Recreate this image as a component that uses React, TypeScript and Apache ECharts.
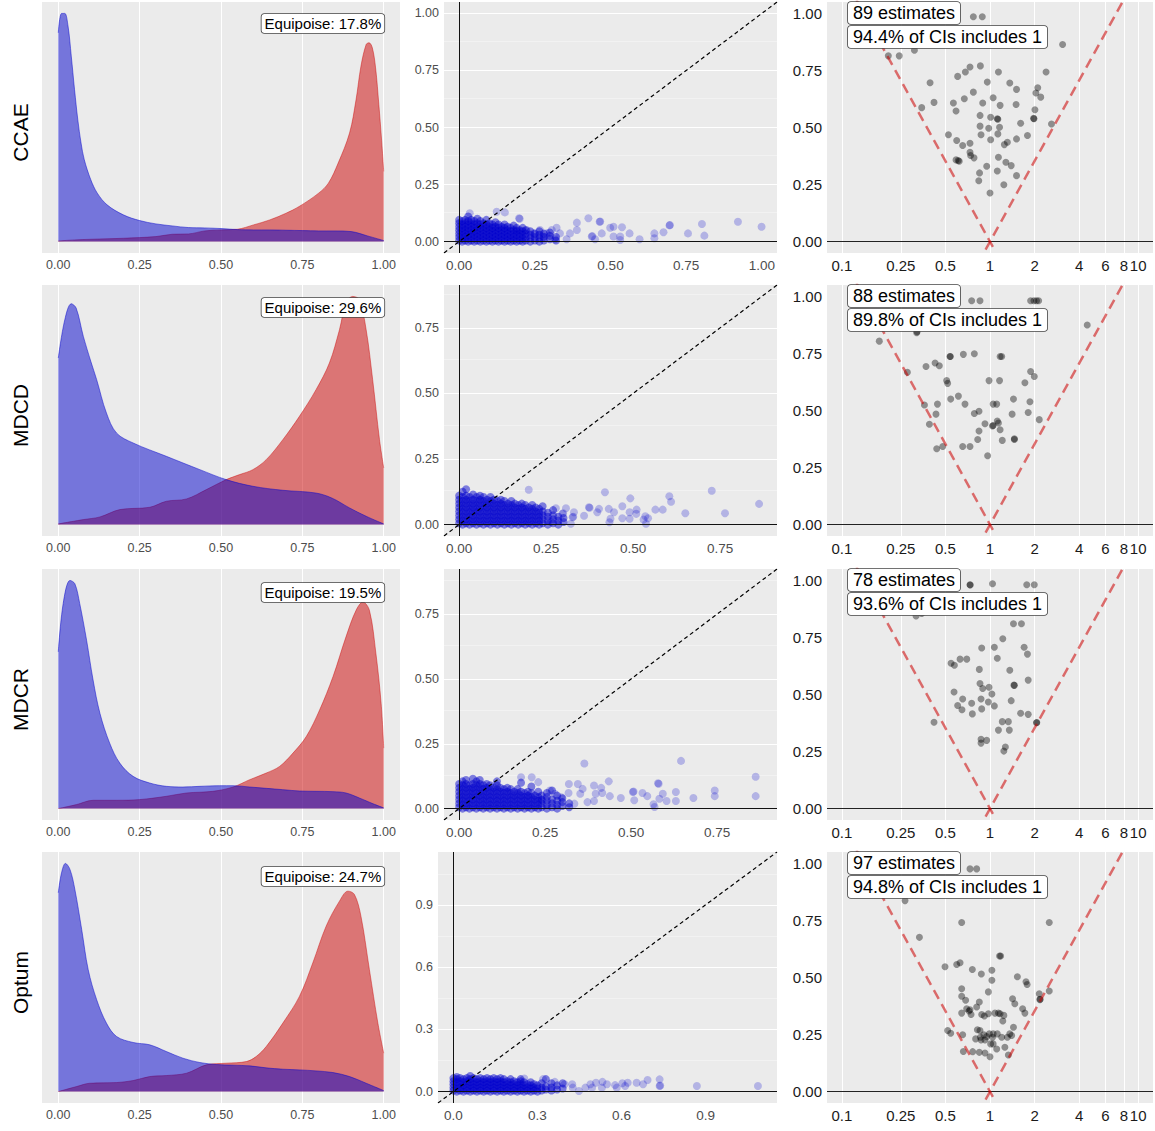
import React, { useEffect, useRef } from "react";
import * as echarts from "echarts";

// ---------- DATA ----------
const rowNames = ["CCAE", "MDCD", "MDCR", "Optum"];
const equipoiseLabels = ["Equipoise: 17.8%", "Equipoise: 29.6%", "Equipoise: 19.5%", "Equipoise: 24.7%"];
const estimateLabels = ["89 estimates", "88 estimates", "78 estimates", "97 estimates"];
const ciLabels = ["94.4% of CIs includes 1", "89.8% of CIs includes 1", "93.6% of CIs includes 1", "94.8% of CIs includes 1"];

// preference score densities: [score, density]
const blueCCAE = [[0,6.25],[0.01,6.83],[0.02,6.83],[0.03,6.45],[0.04,5.55],[0.05,4.55],[0.06,3.65],[0.07,2.95],[0.08,2.45],[0.1,1.85],[0.12,1.45],[0.15,1.1],[0.2,0.8],[0.25,0.63],[0.3,0.53],[0.35,0.47],[0.4,0.42],[0.45,0.41],[0.5,0.39],[0.55,0.36],[0.6,0.35],[0.65,0.35],[0.7,0.34],[0.75,0.33],[0.8,0.32],[0.85,0.32],[0.9,0.3],[0.95,0.17],[1,0.03]];
const redCCAE = [[0,0.02],[0.05,0.05],[0.1,0.07],[0.2,0.1],[0.3,0.15],[0.35,0.22],[0.4,0.23],[0.45,0.32],[0.5,0.35],[0.55,0.37],[0.6,0.5],[0.65,0.65],[0.7,0.85],[0.74,1.05],[0.8,1.45],[0.83,1.75],[0.86,2.35],[0.895,3.25],[0.915,4.25],[0.93,5.25],[0.946,5.9],[0.955,5.95],[0.965,5.8],[0.975,5.2],[0.985,4.1],[0.993,3.1],[1,2.1]];
const blueMDCD = [[0,5.0],[0.02,6.15],[0.04,6.63],[0.055,6.5],[0.077,5.65],[0.1,4.9],[0.118,4.35],[0.148,3.35],[0.179,2.75],[0.23,2.45],[0.332,2.05],[0.435,1.65],[0.516,1.35],[0.598,1.15],[0.69,1.03],[0.79,0.95],[0.84,0.8],[0.895,0.5],[0.946,0.25],[1,0.02]];
const redMDCD = [[0,0.02],[0.077,0.15],[0.128,0.23],[0.189,0.45],[0.281,0.52],[0.332,0.7],[0.394,0.77],[0.455,1.05],[0.516,1.35],[0.557,1.5],[0.598,1.65],[0.639,1.95],[0.69,2.55],[0.741,3.25],[0.792,4.05],[0.833,4.85],[0.864,5.85],[0.884,6.65],[0.905,6.85],[0.925,6.75],[0.946,5.85],[0.966,4.35],[0.987,2.55],[1,1.7]];
const blueMDCR = [[0,4.72],[0.015,6.17],[0.036,6.87],[0.051,6.77],[0.066,6.17],[0.087,5.07],[0.107,3.87],[0.128,2.87],[0.158,1.97],[0.189,1.37],[0.23,0.97],[0.281,0.77],[0.332,0.67],[0.383,0.65],[0.435,0.67],[0.496,0.69],[0.537,0.69],[0.588,0.65],[0.639,0.61],[0.69,0.57],[0.741,0.53],[0.844,0.51],[0.884,0.47],[0.925,0.32],[0.966,0.15],[1,0.02]];
const redMDCR = [[0,0],[0.056,0.12],[0.107,0.25],[0.179,0.25],[0.25,0.27],[0.332,0.37],[0.394,0.47],[0.475,0.52],[0.537,0.65],[0.588,0.87],[0.639,1.07],[0.68,1.27],[0.721,1.67],[0.762,2.17],[0.803,2.97],[0.844,3.97],[0.884,5.17],[0.915,5.97],[0.936,6.22],[0.956,5.97],[0.976,4.67],[0.992,3.17],[1,1.82]];
const blueOptum = [[0,5.95],[0.01,6.55],[0.022,6.83],[0.036,6.65],[0.051,6.05],[0.072,4.85],[0.092,3.65],[0.118,2.75],[0.148,2.05],[0.179,1.65],[0.23,1.47],[0.281,1.4],[0.332,1.2],[0.383,1.0],[0.435,0.87],[0.486,0.81],[0.537,0.79],[0.588,0.77],[0.639,0.71],[0.69,0.67],[0.741,0.65],[0.792,0.62],[0.844,0.57],[0.895,0.45],[0.946,0.25],[1,0.03]];
const redOptum = [[0,0],[0.056,0.15],[0.097,0.25],[0.179,0.27],[0.23,0.33],[0.281,0.45],[0.332,0.48],[0.394,0.55],[0.455,0.8],[0.516,0.85],[0.578,0.9],[0.608,1.05],[0.639,1.35],[0.69,2.05],[0.741,2.85],[0.782,3.85],[0.823,4.95],[0.864,5.7],[0.89,6.0],[0.91,5.9],[0.93,5.25],[0.956,3.65],[0.982,2.05],[1,1.15]];

// before vs after matching SD scatter: dense core [x, [y...]] + scattered points [x, y]
const coreCCAE = [[0,[0.005,0.02,0.035,0.05,0.065,0.08,0.095]],[0.01,[0,0.015,0.03,0.045,0.06,0.075,0.09]],[0.02,[0.005,0.02,0.035,0.05,0.065,0.08,0.095]],[0.03,[0,0.015,0.03,0.045,0.06,0.075,0.09,0.11]],[0.04,[0.005,0.02,0.035,0.05,0.065,0.08,0.095]],[0.05,[0,0.015,0.03,0.045,0.06,0.075,0.09]],[0.06,[0.005,0.02,0.035,0.05,0.065,0.08,0.1]],[0.07,[0,0.015,0.03,0.045,0.06,0.075,0.09]],[0.08,[0.005,0.02,0.035,0.05,0.065,0.08]],[0.09,[0,0.015,0.03,0.045,0.06,0.075,0.095]],[0.1,[0.005,0.02,0.035,0.05,0.065,0.08]],[0.11,[0,0.015,0.03,0.045,0.06,0.075]],[0.12,[0.005,0.02,0.035,0.05,0.065,0.085]],[0.13,[0,0.015,0.03,0.045,0.06,0.075]],[0.14,[0.005,0.02,0.035,0.05,0.065]],[0.15,[0,0.015,0.03,0.045,0.06,0.075]],[0.16,[0.005,0.02,0.035,0.05,0.065]],[0.17,[0,0.015,0.03,0.045,0.06]],[0.18,[0.005,0.02,0.035,0.05,0.07]],[0.19,[0,0.015,0.03,0.045,0.06]],[0.2,[0.005,0.02,0.035,0.05]],[0.21,[0,0.015,0.03,0.045,0.06]],[0.22,[0.005,0.02,0.035,0.05]],[0.235,[0,0.015,0.03,0.045]],[0.25,[0.005,0.02,0.035]],[0.265,[0,0.015,0.03,0.045]],[0.28,[0.005,0.02,0.035]],[0.3,[0.01,0.025,0.04]],[0.32,[0.005,0.02]]];
const outCCAE = [[0.035,0.124],[0.124,0.131],[0.151,0.128],[0.198,0.102],[0.2,0.1],[0.389,0.083],[0.427,0.102],[0.464,0.087],[0.466,0.088],[0.499,0.061],[0.51,0.065],[0.538,0.063],[0.563,0.036],[0.596,0.01],[0.645,0.036],[0.645,0.015],[0.675,0.041],[0.695,0.071],[0.696,0.073],[0.756,0.036],[0.802,0.077],[0.81,0.026],[0.921,0.087],[0.999,0.065],[0.389,0.051],[0.366,0.036],[0.333,0.036],[0.289,0.036],[0.278,0.022],[0.438,0.022],[0.44,0.024],[0.471,0.036],[0.449,0.01],[0.532,0.022],[0.51,0.022],[0.532,0.007],[0.317,0.01],[0.355,0.01],[0.306,0.051],[0.322,0.061],[0.267,0.051],[0.245,0.036],[0.223,0.051],[0.19,0.051]];
const coreMDCD = [[0,[0.005,0.02,0.035,0.05,0.065,0.08,0.095,0.11]],[0.01,[0,0.015,0.03,0.045,0.06,0.075,0.09,0.105,0.125]],[0.02,[0.005,0.02,0.035,0.05,0.065,0.08,0.095,0.11,0.135]],[0.03,[0,0.015,0.03,0.045,0.06,0.075,0.09,0.105]],[0.04,[0.005,0.02,0.035,0.05,0.065,0.08,0.095,0.115]],[0.05,[0,0.015,0.03,0.045,0.06,0.075,0.09,0.105]],[0.06,[0.005,0.02,0.035,0.05,0.065,0.08,0.095,0.11]],[0.07,[0,0.015,0.03,0.045,0.06,0.075,0.09,0.105]],[0.08,[0.005,0.02,0.035,0.05,0.065,0.08,0.095]],[0.09,[0,0.015,0.03,0.045,0.06,0.075,0.09,0.105]],[0.1,[0.005,0.02,0.035,0.05,0.065,0.08,0.095]],[0.11,[0,0.015,0.03,0.045,0.06,0.075,0.09]],[0.12,[0.005,0.02,0.035,0.05,0.065,0.08,0.095]],[0.13,[0,0.015,0.03,0.045,0.06,0.075,0.09]],[0.14,[0.005,0.02,0.035,0.05,0.065,0.08]],[0.15,[0,0.015,0.03,0.045,0.06,0.075,0.09]],[0.16,[0.005,0.02,0.035,0.05,0.065,0.08]],[0.17,[0,0.015,0.03,0.045,0.06,0.075]],[0.18,[0.005,0.02,0.035,0.05,0.065,0.08]],[0.19,[0,0.015,0.03,0.045,0.06,0.075]],[0.2,[0.005,0.02,0.035,0.05,0.065]],[0.21,[0,0.015,0.03,0.045,0.06,0.075]],[0.22,[0.005,0.02,0.035,0.05,0.065]],[0.23,[0,0.015,0.03,0.045,0.06]],[0.24,[0.005,0.02,0.035,0.05,0.07]],[0.255,[0,0.015,0.03,0.045]],[0.27,[0.005,0.02,0.035,0.055]],[0.285,[0,0.015,0.03]],[0.3,[0.01,0.025]]];
const outMDCD = [[0.2,0.133],[0.419,0.123],[0.492,0.1],[0.604,0.108],[0.609,0.087],[0.726,0.129],[0.65,0.043],[0.764,0.043],[0.862,0.079],[0.585,0.057],[0.564,0.057],[0.51,0.057],[0.509,0.041],[0.49,0.022],[0.49,0.047],[0.469,0.07],[0.469,0.024],[0.445,0.047],[0.435,0.022],[0.432,0.009],[0.43,0.06],[0.402,0.06],[0.397,0.047],[0.373,0.066],[0.375,0.064],[0.359,0.034],[0.33,0.047],[0.326,0.028],[0.328,0.03],[0.297,0.041],[0.299,0.043],[0.278,0.062],[0.307,0.062],[0.53,0.019],[0.537,0.003],[0.543,0.024],[0.535,0.032],[0.321,0.003],[0.264,0.009]];
const coreMDCR = [[0,[0.005,0.02,0.035,0.05,0.065,0.08,0.095]],[0.01,[0,0.015,0.03,0.045,0.06,0.075,0.09,0.105]],[0.02,[0.005,0.02,0.035,0.05,0.065,0.08,0.095,0.11]],[0.03,[0,0.015,0.03,0.045,0.06,0.075,0.09]],[0.04,[0.005,0.02,0.035,0.05,0.065,0.08,0.095,0.115]],[0.05,[0,0.015,0.03,0.045,0.06,0.075,0.09,0.105]],[0.06,[0.005,0.02,0.035,0.05,0.065,0.08,0.095,0.11]],[0.07,[0,0.015,0.03,0.045,0.06,0.075,0.09]],[0.08,[0.005,0.02,0.035,0.05,0.065,0.08,0.095]],[0.09,[0,0.015,0.03,0.045,0.06,0.075,0.09]],[0.1,[0.005,0.02,0.035,0.05,0.065,0.08]],[0.11,[0,0.015,0.03,0.045,0.06,0.075,0.09,0.105]],[0.12,[0.005,0.02,0.035,0.05,0.065,0.08]],[0.13,[0,0.015,0.03,0.045,0.06,0.075]],[0.14,[0.005,0.02,0.035,0.05,0.065,0.08]],[0.15,[0,0.015,0.03,0.045,0.06,0.075]],[0.16,[0.005,0.02,0.035,0.05,0.065]],[0.17,[0,0.015,0.03,0.045,0.06,0.075]],[0.18,[0.005,0.02,0.035,0.05,0.065,0.1]],[0.19,[0,0.015,0.03,0.045,0.06]],[0.2,[0.005,0.02,0.035,0.05,0.065]],[0.21,[0,0.015,0.03,0.045,0.06,0.085]],[0.22,[0.005,0.02,0.035,0.05]],[0.23,[0,0.015,0.03,0.045,0.065]],[0.24,[0.005,0.02,0.035,0.05]],[0.255,[0,0.015,0.03,0.045,0.06]],[0.27,[0.005,0.02,0.035,0.07]],[0.285,[0,0.015,0.03,0.05]],[0.3,[0.01,0.025,0.04]],[0.32,[0.005,0.02]]];
const outMDCR = [[0.364,0.174],[0.645,0.184],[0.862,0.123],[0.862,0.048],[0.743,0.07],[0.743,0.048],[0.681,0.041],[0.63,0.064],[0.63,0.029],[0.592,0.057],[0.603,0.029],[0.578,0.098],[0.58,0.096],[0.582,0.038],[0.565,0.017],[0.568,0.006],[0.547,0.048],[0.533,0.06],[0.505,0.064],[0.507,0.066],[0.509,0.032],[0.47,0.041],[0.435,0.105],[0.438,0.048],[0.416,0.06],[0.413,0.08],[0.392,0.089],[0.392,0.029],[0.397,0.057],[0.359,0.076],[0.345,0.095],[0.319,0.095],[0.352,0.057],[0.373,0.025],[0.335,0.019],[0.318,0.06],[0.297,0.044],[0.278,0.057],[0.264,0.07],[0.23,0.102],[0.211,0.121],[0.18,0.121],[0.24,0.032]];
const coreOptum = [[0,[0.005,0.02,0.035,0.05,0.065]],[0.012,[0,0.015,0.03,0.045,0.06,0.07]],[0.024,[0.005,0.02,0.035,0.05,0.065]],[0.036,[0,0.015,0.03,0.045,0.06]],[0.048,[0.005,0.02,0.035,0.05,0.065]],[0.06,[0,0.015,0.03,0.045,0.06,0.075]],[0.072,[0.005,0.02,0.035,0.05,0.065]],[0.084,[0,0.015,0.03,0.045,0.06]],[0.096,[0.005,0.02,0.035,0.05,0.065]],[0.108,[0,0.015,0.03,0.045,0.06]],[0.12,[0.005,0.02,0.035,0.05,0.065]],[0.132,[0,0.015,0.03,0.045,0.06]],[0.144,[0.005,0.02,0.035,0.05,0.065]],[0.156,[0,0.015,0.03,0.045,0.06]],[0.168,[0.005,0.02,0.035,0.05,0.065]],[0.18,[0,0.015,0.03,0.045,0.06]],[0.192,[0.005,0.02,0.035,0.05]],[0.204,[0,0.015,0.03,0.045,0.06]],[0.216,[0.005,0.02,0.035,0.05]],[0.228,[0,0.015,0.03,0.045]],[0.24,[0.005,0.02,0.035,0.05,0.06]],[0.252,[0,0.015,0.03,0.045]],[0.264,[0.005,0.02,0.035]],[0.276,[0,0.015,0.03,0.045]],[0.288,[0.005,0.02,0.035]],[0.3,[0,0.015,0.03]],[0.315,[0.005,0.02,0.04]],[0.33,[0.01,0.025,0.06]],[0.35,[0.005,0.02,0.04]],[0.37,[0.01,0.03]],[0.39,[0.015,0.04]]];
const outOptum = [[0.253,0.063],[0.32,0.06],[0.362,0.047],[0.397,0.035],[0.426,0.019],[0.448,0.003],[0.471,0.019],[0.489,0.035],[0.509,0.043],[0.532,0.047],[0.548,0.035],[0.577,0.031],[0.583,0.019],[0.603,0.04],[0.613,0.027],[0.622,0.043],[0.654,0.043],[0.677,0.035],[0.693,0.056],[0.736,0.059],[0.736,0.027],[0.738,0.029],[0.869,0.027],[1.087,0.027],[0.53,0.019],[0.495,0.019],[0.424,0.035]];
const scatterMax = [1.0, 0.87, 0.88, 1.1];

// empirical calibration: [hazard ratio estimate, standard error]
const hrCCAE = [[0.206,0.814],[0.244,0.814],[0.309,0.839],[0.772,0.985],[0.887,0.985],[3.09,0.864],[0.394,0.696],[0.346,0.587],[0.419,0.61],[0.605,0.724],[0.682,0.743],[0.733,0.765],[0.861,0.77],[0.566,0.607],[0.59,0.572],[0.671,0.626],[0.772,0.655],[0.959,0.699],[0.893,0.607],[1.05,0.63],[1.14,0.743],[1.17,0.597],[1.36,0.695],[1.51,0.667],[1.5,0.601],[2.39,0.743],[2.04,0.651],[2.1,0.674],[2.2,0.633],[2.01,0.578],[1.98,0.538],[1.97,0.54],[2.6,0.515],[1.12,0.538],[1.13,0.536],[0.857,0.553],[0.857,0.506],[1.01,0.545],[0.98,0.497],[1.13,0.472],[1.01,0.446],[0.87,0.468],[0.524,0.468],[0.596,0.443],[0.654,0.421],[0.733,0.431],[0.733,0.391],[0.78,0.367],[1.16,0.501],[1.25,0.425],[1.31,0.435],[1.51,0.45],[1.79,0.465],[1.61,0.519],[1.14,0.37],[0.95,0.33],[0.85,0.301],[0.84,0.267],[1.12,0.309],[1.24,0.249],[1.28,0.348],[1.39,0.333],[1.51,0.289],[1.0,0.213],[0.59,0.358],[0.62,0.352],[0.61,0.355],[0.74,0.377]];
const hrMDCD = [[0.179,0.804],[0.277,0.668],[0.32,0.841],[0.322,0.845],[0.752,0.981],[0.856,0.981],[1.88,0.981],[1.98,0.981],[2.06,0.981],[2.13,0.981],[4.53,0.875],[0.37,0.693],[0.39,0.44],[0.361,0.524],[0.437,0.332],[0.426,0.708],[0.455,0.696],[0.432,0.484],[0.442,0.528],[0.48,0.342],[0.51,0.631],[0.518,0.619],[0.537,0.737],[0.54,0.737],[0.543,0.55],[0.612,0.563],[0.654,0.342],[0.661,0.746],[0.678,0.528],[0.733,0.342],[0.784,0.749],[0.784,0.487],[0.826,0.373],[0.843,0.497],[0.843,0.41],[0.925,0.442],[0.964,0.302],[0.985,0.631],[1.04,0.432],[1.05,0.434],[1.05,0.528],[1.11,0.528],[1.12,0.454],[1.14,0.445],[1.16,0.631],[1.17,0.416],[1.17,0.737],[1.2,0.737],[1.21,0.369],[1.41,0.484],[1.44,0.55],[1.72,0.622],[1.81,0.491],[1.86,0.538],[1.88,0.671],[1.99,0.649],[2.15,0.46],[1.46,0.373],[1.46,0.376]];
const hrMDCR = [[0.317,0.844],[0.346,0.855],[0.733,0.981],[0.735,0.98],[1.04,0.985],[1.77,0.981],[1.99,0.981],[1.44,0.81],[1.63,0.81],[0.419,0.378],[0.546,0.637],[0.575,0.628],[0.628,0.655],[0.697,0.655],[0.572,0.511],[0.605,0.452],[0.647,0.433],[0.654,0.48],[0.752,0.462],[0.76,0.415],[0.847,0.61],[0.856,0.548],[0.87,0.48],[0.879,0.437],[0.893,0.526],[0.87,0.304],[0.87,0.287],[0.95,0.299],[0.879,0.704],[0.975,0.467],[0.985,0.532],[1.03,0.502],[1.07,0.45],[1.07,0.707],[1.12,0.659],[1.14,0.344],[1.21,0.381],[1.22,0.744],[1.24,0.252],[1.27,0.27],[1.33,0.381],[1.35,0.344],[1.36,0.606],[1.39,0.473],[1.45,0.541],[1.46,0.54],[1.61,0.418],[1.7,0.707],[1.79,0.677],[1.81,0.563],[1.81,0.413],[2.06,0.376],[2.07,0.377]];
const hrOptum = [[0.267,0.837],[0.334,0.676],[0.733,0.976],[0.813,0.976],[0.644,0.741],[2.51,0.741],[0.497,0.547],[0.518,0.268],[0.543,0.256],[0.596,0.557],[0.628,0.565],[0.644,0.451],[0.644,0.418],[0.644,0.344],[0.654,0.249],[0.661,0.176],[0.685,0.4],[0.696,0.363],[0.722,0.353],[0.733,0.359],[0.745,0.338],[0.76,0.535],[0.764,0.175],[0.813,0.371],[0.822,0.271],[0.847,0.393],[0.856,0.268],[0.861,0.238],[0.874,0.515],[0.847,0.172],[0.87,0.226],[0.879,0.338],[0.916,0.331],[0.925,0.169],[0.925,0.226],[0.95,0.241],[0.975,0.437],[0.99,0.253],[1.0,0.153],[0.975,0.341],[1.01,0.209],[1.03,0.532],[1.03,0.488],[1.04,0.238],[1.05,0.209],[1.08,0.344],[1.11,0.187],[1.12,0.253],[1.14,0.344],[1.16,0.594],[1.18,0.594],[1.17,0.341],[1.2,0.238],[1.22,0.309],[1.24,0.334],[1.26,0.194],[1.33,0.16],[1.36,0.253],[1.42,0.407],[1.44,0.282],[1.47,0.385],[1.53,0.503],[1.66,0.363],[1.75,0.481],[1.78,0.469],[1.72,0.344],[2.15,0.429],[2.17,0.403],[2.18,0.405],[2.51,0.441],[1.31,0.238],[1.4,0.246],[1.05,0.253],[0.91,0.249],[0.8,0.231]];

// axis tick values
const psTicks = [0, 0.25, 0.5, 0.75, 1];
const sdTicks = [[0, 0.25, 0.5, 0.75, 1], [0, 0.25, 0.5, 0.75], [0, 0.25, 0.5, 0.75], [0, 0.3, 0.6, 0.9]];
const sdMinor = [[0.125, 0.375, 0.625, 0.875], [0.125, 0.375, 0.625, 0.875], [0.125, 0.375, 0.625, 0.875], [0.15, 0.45, 0.75, 1.05]];
const hrTicks = [0.1, 0.25, 0.5, 1, 2, 4, 6, 8, 10];
const seTicks = [0, 0.25, 0.5, 0.75, 1];

const blueDens = [blueCCAE, blueMDCD, blueMDCR, blueOptum];
const redDens = [redCCAE, redMDCD, redMDCR, redOptum];
const cores = [coreCCAE, coreMDCD, coreMDCR, coreOptum];
const outs = [outCCAE, outMDCD, outMDCR, outOptum];
const hrs = [hrCCAE, hrMDCD, hrMDCR, hrOptum];

// ---------- LAYOUT / STYLE ----------
const FONT = '"Liberation Sans", Arial, Helvetica, sans-serif';
const ROW_TOP = [2, 285, 569, 852];
const PANEL_H = 251;
const C2_LEFT = [444, 444, 444, 438];
const PANEL_BG = "#EBEBEB";
const Z95 = 1.96;

function buildOption() {
  const grid: any[] = [];
  const xAxis: any[] = [];
  const yAxis: any[] = [];
  const series: any[] = [];
  const graphic: any[] = [];

  const noLine = { show: false };
  const labelBase = (size: number, color: string) => ({ fontSize: size, color, fontFamily: FONT, margin: 5 });
  const gridBase = { show: true, backgroundColor: PANEL_BG, borderWidth: 0, containLabel: false };
  const mlBase = { silent: true, symbol: ["none", "none"], label: { show: false }, emphasis: { disabled: true }, animation: false };

  for (let r = 0; r < 4; r++) {
    const top = ROW_TOP[r];
    const g1 = r * 3, g2 = r * 3 + 1, g3 = r * 3 + 2;

    // ---- column 1: preference score distribution
    grid.push({ ...gridBase, left: 42, top, width: 358, height: PANEL_H });
    const M = Math.max(...blueDens[r].map((p) => p[1]), ...redDens[r].map((p) => p[1]));
    xAxis.push({
      type: "value", gridIndex: g1, min: -0.05, max: 1.05,
      axisLine: noLine, axisTick: noLine, splitLine: noLine,
      axisLabel: { ...labelBase(12.5, "#4D4D4D"), customValues: psTicks, formatter: (v: number) => v.toFixed(2) },
    });
    yAxis.push({ type: "value", gridIndex: g1, min: -0.05 * M, max: 1.05 * M, show: false });
    series.push({
      type: "line", xAxisIndex: g1, yAxisIndex: g1, data: redDens[r], smooth: 0.35, symbol: "none", z: 2,
      lineStyle: { color: "rgba(204,0,0,0.55)", width: 0.8 }, areaStyle: { color: "rgba(204,0,0,0.5)", opacity: 1 },
      markLine: { ...mlBase, z: 1, lineStyle: { color: "#FFFFFF", width: 1.1, type: "solid" }, data: psTicks.map((v) => ({ xAxis: v })) },
    });
    series.push({
      type: "line", xAxisIndex: g1, yAxisIndex: g1, data: blueDens[r], smooth: 0.35, symbol: "none", z: 3,
      lineStyle: { color: "rgba(0,0,204,0.6)", width: 0.8 }, areaStyle: { color: "rgba(0,0,204,0.5)", opacity: 1 },
    });
    graphic.push({
      type: "text", x: 20.5, y: top + PANEL_H / 2 + 5, rotation: Math.PI / 2, z: 100,
      style: { text: rowNames[r], font: `21px ${FONT}`, fill: "#000", align: "center", verticalAlign: "middle" },
    });
    const eqTop = [14, 298, 583, 867][r];
    graphic.push({
      type: "text", x: 384.3, y: eqTop, z: 100,
      style: {
        text: equipoiseLabels[r], font: `15px ${FONT}`, fill: "#000", align: "right", verticalAlign: "top",
        backgroundColor: "#FFFFFF", borderColor: "#444", borderWidth: 0.8, borderRadius: 3, padding: [1, 3, 1, 3], lineHeight: 17,
      },
    });

    // ---- column 2: SD before vs after
    const R = scatterMax[r];
    const lo = -0.05 * R, hi = 1.05 * R;
    grid.push({ ...gridBase, left: C2_LEFT[r], top, width: 777 - C2_LEFT[r], height: PANEL_H });
    const fmt2 = (v: number) => (r === 3 ? v.toFixed(1) : v.toFixed(2));
    xAxis.push({
      type: "value", gridIndex: g2, min: lo, max: hi, axisLine: noLine, axisTick: noLine, splitLine: noLine,
      axisLabel: { ...labelBase(13.5, "#4D4D4D"), customValues: sdTicks[r], formatter: fmt2 },
    });
    yAxis.push({
      type: "value", gridIndex: g2, min: lo, max: hi, axisLine: noLine, axisTick: noLine, splitLine: noLine,
      axisLabel: { ...labelBase(12.5, "#4D4D4D"), customValues: sdTicks[r], formatter: fmt2 },
    });
    const corePts: number[][] = [];
    (cores[r] as any[]).forEach(([x, ys]: [number, number[]]) => ys.forEach((y) => corePts.push([x, y])));
    // dense core: heavily overplotted region, drawn with the accumulated opacity
    series.push({
      type: "scatter", xAxisIndex: g2, yAxisIndex: g2, data: corePts, symbolSize: 8, z: 2,
      itemStyle: { color: "rgba(0,0,204,0.6)", borderWidth: 0 },
      markLine: {
        ...mlBase, z: 1,
        data: [
          ...sdTicks[r].filter((v) => v > 0).map((v) => ({ yAxis: v, lineStyle: { color: "#FFFFFF", width: 1.2, type: "solid" } })),
          ...sdMinor[r].map((v) => ({ yAxis: v, lineStyle: { color: "#F5F5F5", width: 0.7, type: "solid" } })),
        ],
      },
    });
    series.push({
      type: "scatter", xAxisIndex: g2, yAxisIndex: g2, data: outs[r], symbolSize: 8, z: 2,
      itemStyle: { color: "rgba(0,0,204,0.3)", borderWidth: 0 },
    });
    series.push({
      type: "line", xAxisIndex: g2, yAxisIndex: g2, data: [[lo, lo], [hi, hi]], symbol: "none", z: 5,
      lineStyle: { color: "#000", width: 1.2, type: [4, 3] },
      markLine: { ...mlBase, z: 4, lineStyle: { color: "#111", width: 1, type: "solid" }, data: [{ xAxis: 0 }, { yAxis: 0 }] },
    });

    // ---- column 3: calibration funnel
    grid.push({ ...gridBase, left: 827, top, width: 326, height: PANEL_H });
    xAxis.push({
      type: "log", logBase: 10, gridIndex: g3, min: Math.pow(10, -1.1), max: Math.pow(10, 1.1),
      axisLine: noLine, axisTick: noLine, splitLine: noLine, minorSplitLine: noLine,
      axisLabel: { ...labelBase(15, "#1A1A1A"), customValues: hrTicks, formatter: (v: number) => String(Math.round(v * 100) / 100) },
    });
    yAxis.push({
      type: "value", gridIndex: g3, min: -0.05, max: 1.05, axisLine: noLine, axisTick: noLine, splitLine: noLine,
      axisLabel: { ...labelBase(15, "#1A1A1A"), customValues: seTicks, formatter: (v: number) => v.toFixed(2) },
    });
    series.push({
      type: "scatter", xAxisIndex: g3, yAxisIndex: g3, data: hrs[r], symbolSize: 7, z: 3,
      itemStyle: { color: "rgba(0,0,0,0.5)", borderWidth: 0 },
      markLine: { ...mlBase, z: 1, lineStyle: { color: "#FFFFFF", width: 1.1, type: "solid" }, data: hrTicks.map((v) => ({ xAxis: v })) },
    });
    const seLo = -0.035, seHi = 1.12;
    const dashStyle = { color: "rgba(204,0,0,0.55)", width: 2.5, type: [10, 6] };
    series.push({
      type: "line", xAxisIndex: g3, yAxisIndex: g3, symbol: "none", z: 4, clip: true,
      data: [[Math.exp(-Z95 * seHi), seHi], [Math.exp(-Z95 * seLo), seLo]], lineStyle: dashStyle,
      markLine: { ...mlBase, z: 2, lineStyle: { color: "#222", width: 1, type: "solid" }, data: [{ yAxis: 0 }] },
    });
    series.push({
      type: "line", xAxisIndex: g3, yAxisIndex: g3, symbol: "none", z: 4, clip: true,
      data: [[Math.exp(Z95 * seLo), seLo], [Math.exp(Z95 * seHi), seHi]], lineStyle: dashStyle,
    });
    const boxStyle = {
      font: `18px ${FONT}`, fill: "#000", align: "left", verticalAlign: "top",
      backgroundColor: "#FFFFFF", borderColor: "#444", borderWidth: 0.8, borderRadius: 3, padding: [1, 5, 1, 5], lineHeight: 20,
    };
    graphic.push({ type: "text", x: 848, y: top + 0, z: 100, style: { ...boxStyle, text: estimateLabels[r] } });
    graphic.push({ type: "text", x: 848, y: top + 24, z: 100, style: { ...boxStyle, text: ciLabels[r] } });
  }

  return {
    animation: false,
    backgroundColor: "#FFFFFF",
    textStyle: { fontFamily: FONT },
    grid, xAxis, yAxis, series, graphic,
  };
}

export default function App() {
  const ref = useRef<HTMLDivElement>(null);
  useEffect(() => {
    if (!ref.current) return;
    const chart = echarts.init(ref.current, undefined, { renderer: "svg" });
    chart.setOption(buildOption() as any);
    return () => chart.dispose();
  }, []);
  return <div ref={ref} style={{ position: "absolute", left: 0, top: 0, width: 1155, height: 1131 }} />;
}
